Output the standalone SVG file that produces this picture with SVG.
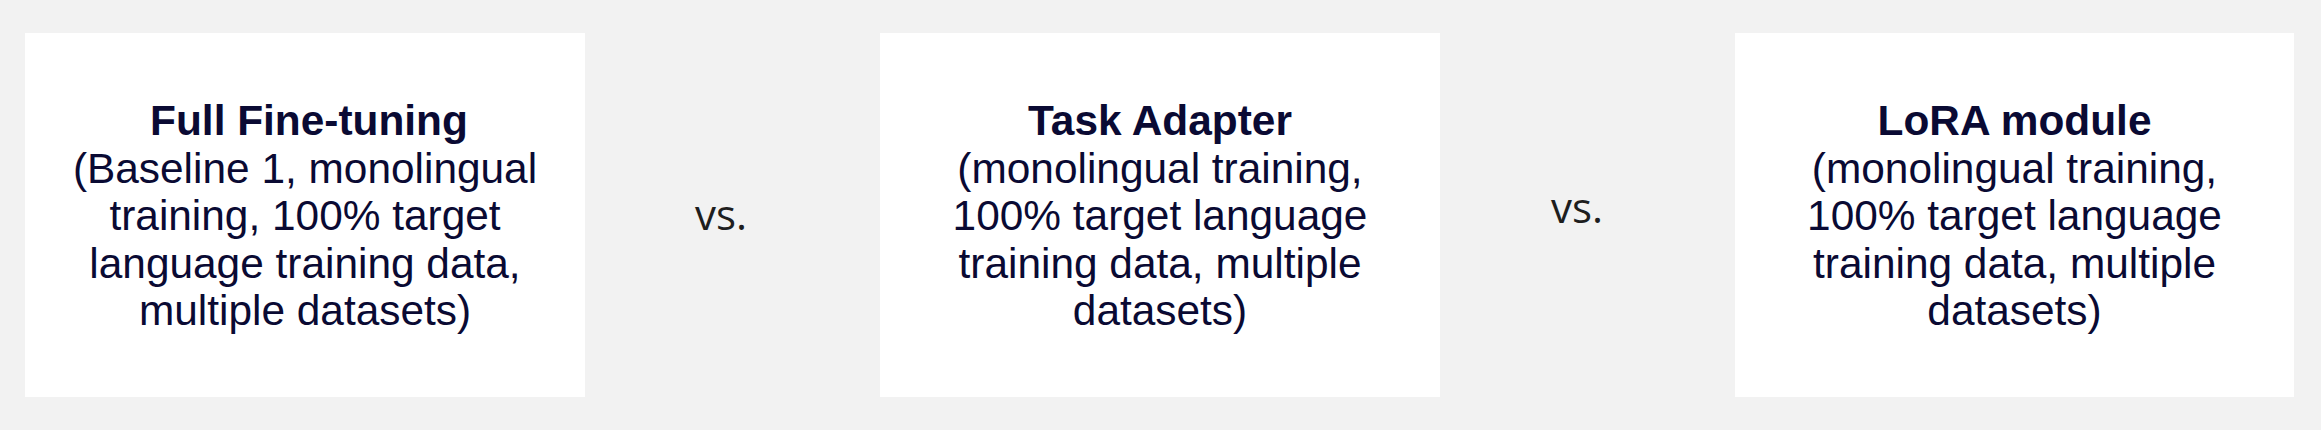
<svg xmlns="http://www.w3.org/2000/svg" width="2321" height="430" viewBox="0 0 2321 430">
<style>
.box{fill:#ffffff;stroke:none}
.t{font-family:"Liberation Sans",Arial,sans-serif;font-size:42.4px;fill:#0a0a33;text-anchor:middle}
.b{font-weight:bold}
.vs{font-family:"Open Sans","Noto Sans",sans-serif;font-size:42px;fill:#1e1e1e;text-anchor:middle}
</style>
<rect x="0" y="0" width="2321" height="430" fill="#f2f2f2"/>
<g id="node-full-finetuning">
<rect class="box" x="25" y="33" width="560" height="364"/>
<text class="t"><tspan class="b" x="309" y="135">Full Fine-tuning</tspan><tspan x="305" y="182.5">(Baseline 1, monolingual</tspan><tspan x="305" y="230">training, 100% target</tspan><tspan x="305" y="277.5">language training data,</tspan><tspan x="305" y="325">multiple datasets)</tspan></text>
</g>
<g id="node-task-adapter">
<rect class="box" x="880" y="33" width="560" height="364"/>
<text class="t"><tspan class="b" x="1160" y="135">Task Adapter</tspan><tspan x="1160" y="182.5">(monolingual training,</tspan><tspan x="1160" y="230">100% target language</tspan><tspan x="1160" y="277.5">training data, multiple</tspan><tspan x="1160" y="325">datasets)</tspan></text>
</g>
<g id="node-lora">
<rect class="box" x="1735" y="33" width="559" height="364"/>
<text class="t"><tspan class="b" x="2014.5" y="135">LoRA module</tspan><tspan x="2014.5" y="182.5">(monolingual training,</tspan><tspan x="2014.5" y="230">100% target language</tspan><tspan x="2014.5" y="277.5">training data, multiple</tspan><tspan x="2014.5" y="325">datasets)</tspan></text>
</g>
<g id="connectors">
<text class="vs" x="721" y="230">vs.</text>
<text class="vs" x="1577" y="223">vs.</text>
</g>
</svg>
